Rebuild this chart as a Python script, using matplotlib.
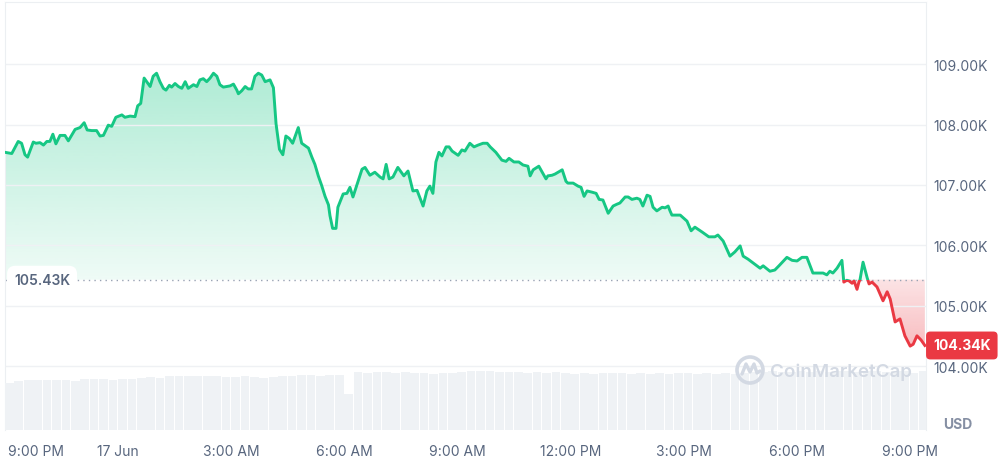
import numpy as np
import matplotlib.pyplot as plt
from matplotlib.colors import LinearSegmentedColormap, to_rgb
from matplotlib.path import Path
from matplotlib.patches import Rectangle, Circle
from matplotlib.lines import Line2D
from matplotlib.transforms import IdentityTransform, ScaledTranslation

plt.rcParams['font.family'] = ['Inter', 'DejaVu Sans']

# %% data: hours after 16 Jun 9:00 PM, price in K USD
hours = [0.00, 0.18, 0.35, 0.44, 0.53, 0.60, 0.75, 0.82, 0.93, 1.02,
         1.11, 1.19, 1.27, 1.35, 1.46, 1.59, 1.68, 1.86, 1.99, 2.10,
         2.18, 2.30, 2.43, 2.52, 2.61, 2.74, 2.83, 2.94, 3.10, 3.18,
         3.32, 3.45, 3.52, 3.60, 3.69, 3.85, 3.93, 4.02, 4.11, 4.20,
         4.27, 4.36, 4.42, 4.51, 4.60, 4.69, 4.78, 4.86, 5.00, 5.09,
         5.17, 5.26, 5.35, 5.44, 5.53, 5.62, 5.70, 5.79, 5.97, 6.06,
         6.15, 6.19, 6.28, 6.37, 6.45, 6.54, 6.63, 6.72, 6.81, 6.90,
         7.03, 7.12, 7.19, 7.28, 7.37, 7.45, 7.54, 7.63, 7.78, 7.87,
         7.96, 8.05, 8.14, 8.22, 8.31, 8.40, 8.49, 8.58, 8.62, 8.69,
         8.78, 8.83, 8.97, 9.07, 9.15, 9.23, 9.34, 9.47, 9.55, 9.68,
         9.81, 9.95, 10.03, 10.11, 10.19, 10.29, 10.42, 10.58, 10.69, 10.82,
         10.93, 11.09, 11.19, 11.27, 11.35, 11.43, 11.51, 11.59, 11.70, 11.78,
         11.86, 12.02, 12.12, 12.20, 12.33, 12.44, 12.55, 12.68, 12.79, 12.87,
         13.02, 13.18, 13.29, 13.37, 13.50, 13.63, 13.74, 13.87, 13.93, 14.01,
         14.16, 14.35, 14.40, 14.51, 14.59, 14.78, 14.88, 14.93, 15.07, 15.20,
         15.28, 15.36, 15.44, 15.57, 15.68, 15.76, 15.86, 16.00, 16.13, 16.23,
         16.31, 16.45, 16.53, 16.63, 16.76, 16.84, 16.92, 17.03, 17.11, 17.19,
         17.29, 17.43, 17.51, 17.59, 17.64, 17.69, 17.91, 18.09, 18.20, 18.30,
         18.49, 18.67, 18.83, 18.91, 19.05, 19.23, 19.36, 19.50, 19.58, 19.71,
         20.03, 20.11, 20.29, 20.42, 20.53, 20.74, 20.88, 21.01, 21.14, 21.27,
         21.43, 21.70, 21.80, 21.88, 21.96, 22.07, 22.20, 22.25, 22.33, 22.39,
         22.47, 22.52, 22.60, 22.65, 22.68, 22.76, 22.87, 22.92, 23.00, 23.13,
         23.29, 23.40, 23.48, 23.61, 23.74, 23.87, 24.01, 24.09, 24.19, 24.30,
         24.40]
price = [107.54, 107.52, 107.72, 107.69, 107.50, 107.46, 107.71, 107.69, 107.70, 107.66,
         107.72, 107.72, 107.84, 107.68, 107.82, 107.82, 107.73, 107.92, 107.95, 108.03,
         107.91, 107.90, 107.90, 107.81, 107.82, 107.99, 107.97, 108.12, 108.16, 108.12,
         108.14, 108.13, 108.31, 108.35, 108.77, 108.63, 108.80, 108.85, 108.71, 108.60,
         108.57, 108.65, 108.62, 108.68, 108.63, 108.60, 108.71, 108.60, 108.66, 108.63,
         108.74, 108.76, 108.71, 108.77, 108.85, 108.80, 108.66, 108.62, 108.64, 108.67,
         108.57, 108.51, 108.56, 108.63, 108.59, 108.59, 108.80, 108.85, 108.82, 108.71,
         108.74, 108.61, 108.01, 107.59, 107.50, 107.81, 107.77, 107.69, 107.95, 107.69,
         107.65, 107.61, 107.46, 107.34, 107.15, 106.99, 106.81, 106.67, 106.49, 106.28,
         106.28, 106.63, 106.85, 106.86, 106.96, 106.80, 107.01, 107.26, 107.29, 107.16,
         107.21, 107.13, 107.10, 107.34, 107.10, 107.13, 107.29, 107.15, 107.23, 106.90,
         106.91, 106.65, 106.90, 106.98, 106.86, 107.38, 107.54, 107.48, 107.63, 107.63,
         107.56, 107.49, 107.58, 107.56, 107.69, 107.63, 107.66, 107.69, 107.69, 107.63,
         107.54, 107.41, 107.39, 107.44, 107.38, 107.38, 107.33, 107.31, 107.15, 107.25,
         107.31, 107.10, 107.15, 107.16, 107.18, 107.25, 107.06, 107.03, 107.03, 106.98,
         106.96, 106.81, 106.90, 106.88, 106.86, 106.76, 106.75, 106.53, 106.65, 106.68,
         106.70, 106.80, 106.80, 106.76, 106.78, 106.76, 106.65, 106.83, 106.81, 106.63,
         106.57, 106.63, 106.62, 106.65, 106.57, 106.50, 106.50, 106.40, 106.24, 106.30,
         106.22, 106.14, 106.14, 106.17, 106.07, 105.82, 105.89, 105.99, 105.82, 105.77,
         105.62, 105.66, 105.57, 105.59, 105.66, 105.80, 105.75, 105.74, 105.80, 105.80,
         105.54, 105.54, 105.51, 105.57, 105.54, 105.62, 105.75, 105.39, 105.42, 105.41,
         105.37, 105.41, 105.27, 105.39, 105.43, 105.72, 105.46, 105.36, 105.39, 105.31,
         105.08, 105.23, 105.11, 104.73, 104.78, 104.50, 104.33, 104.36, 104.50, 104.43,
         104.34]

# 15 min volume bars (B USD)
vol_step = 0.25
volume = [37.6, 39.2, 40.0, 40.0, 40.0, 40.0, 40.0, 39.2, 40.8, 40.8,
          40.8, 40.0, 40.8, 40.8, 41.6, 42.4, 41.6, 43.2, 43.2, 43.2,
          43.2, 43.2, 43.2, 42.4, 42.4, 43.2, 42.4, 41.6, 42.4, 43.2,
          43.2, 44.0, 44.0, 43.2, 44.0, 44.0, 28.8, 46.4, 45.6, 46.4,
          46.4, 45.6, 46.4, 45.6, 45.6, 44.8, 45.6, 45.6, 46.4, 47.2,
          47.2, 47.2, 46.4, 46.4, 46.4, 45.6, 46.4, 45.6, 46.4, 45.6,
          44.8, 45.6, 44.8, 45.6, 45.6, 45.6, 44.8, 45.6, 44.8, 45.6,
          44.8, 45.6, 45.6, 44.8, 45.6, 44.8, 45.6, 44.8, 45.6, 46.4,
          46.4, 47.2, 46.4, 46.4, 47.2, 46.4, 47.2, 46.4, 47.2, 47.2,
          46.4, 47.2, 47.2, 46.4, 47.2, 47.2, 45.6, 47.2]

base_price = 105.43
last_price = 104.34
tick_hours = [0, 3, 6, 9, 12, 15, 18, 21, 24]
tick_labels = ['9:00 PM', '17 Jun', '3:00 AM', '6:00 AM', '9:00 AM',
               '12:00 PM', '3:00 PM', '6:00 PM', '9:00 PM']
price_ticks = [104, 105, 106, 107, 108, 109]

green = '#16c784'
red = '#ea3943'
txt_col = '#58667e'

# %%
x = np.array(hours)
y = np.array(price)
xmax = 24.43

fig = plt.figure(figsize=(10.02, 4.6), dpi=100)
ax = fig.add_axes([5/1002, 29/460, 921/1002, 428/460])

# volume underlay
ax2 = ax.twinx()
t_vol = np.arange(len(volume)) * vol_step
ax2.bar(t_vol, volume, width=vol_step*0.92, align='edge', color='#eff2f5', edgecolor='none')
ax2.set_ylim(0, 342.4)
ax2.set_yticks([])
for sp in ax2.spines.values():
    sp.set_visible(False)

# gradient fills, clipped to the area between line and baseline
def grad_fill(mask, lo, hi, c, a_lo, a_hi):
    fb = ax.fill_between(x, y, base_price, where=mask, interpolate=True,
                         facecolor='none', edgecolor='none')
    clip = Path.make_compound_path(*fb.get_paths())
    rgb = to_rgb(c)
    cmap = LinearSegmentedColormap.from_list('g', [rgb + (a_lo,), rgb + (a_hi,)])
    im = ax.imshow(np.linspace(0, 1, 256).reshape(-1, 1), extent=(0, xmax, lo, hi),
                   origin='lower', cmap=cmap, aspect='auto', zorder=1, interpolation='bilinear')
    im.set_clip_path(clip, transform=ax.transData)

grad_fill(y >= base_price, base_price, y.max(), green, 0.07, 0.34)
grad_fill(y <= base_price, y.min(), base_price, red, 0.33, 0.14)

# price line, green above the open, red below
lg, = ax.plot(x, y, color=green, lw=2.1, zorder=3, solid_joinstyle='round')
lg.set_clip_path(Rectangle((0, base_price), 30, 10, transform=ax.transData))
lr, = ax.plot(x, y, color=red, lw=2.1, zorder=3, solid_joinstyle='round')
lr.set_clip_path(Rectangle((0, base_price - 10), 30, 10, transform=ax.transData))

ax.axhline(base_price, color='#98a2b3', lw=1, ls=(0, (1, 3)), zorder=2.5)

ax.set_xlim(0, xmax)
ax.set_ylim(102.94, 110.03)

ax.set_yticks(price_ticks, [f'{v:.2f}K' for v in price_ticks])
ax.yaxis.tick_right()
ax.grid(axis='y', color='#eff1f4', lw=1)
ax.tick_params(axis='y', length=0, pad=5, labelsize=10, labelcolor=txt_col)
ax.set_xticks(tick_hours, tick_labels)
ax.tick_params(axis='x', length=0, pad=10, labelsize=10, labelcolor=txt_col)
first = ax.get_xticklabels()[0]
first.set_horizontalalignment('left')
first.set_transform(first.get_transform() + ScaledTranslation(3/100, 0, fig.dpi_scale_trans))

for side in ['top', 'left', 'right']:
    ax.spines[side].set_color('#eceff2')
ax.spines['bottom'].set_visible(False)

# open price label and current price badge
ax.text(9/921, base_price, '105.43K', transform=ax.get_yaxis_transform(),
        ha='left', va='center', fontsize=10, fontweight='semibold', color=txt_col, zorder=4,
        bbox=dict(boxstyle='round,pad=0.5,rounding_size=0.6', fc='white', ec='none'))
ax.annotate('104.34K', xy=(1, last_price), xycoords=ax.get_yaxis_transform(),
            xytext=(7, 0), textcoords='offset pixels', ha='left', va='center',
            fontsize=10, fontweight='bold', color='white', zorder=6, annotation_clip=False,
            bbox=dict(boxstyle='round,pad=0.5,rounding_size=0.3', fc=red, ec='none'))

fig.text(958/1002, 1 - 425/460, 'USD', ha='center', va='center', fontsize=10,
         fontweight='bold', color='#858fa3')

# watermark
wm = '#d3d9e3'
fig.patches.append(Circle((750, 460 - 371), 13, fill=False, ec=wm, lw=2.6,
                          transform=IdentityTransform(), zorder=10))
fig.lines.append(Line2D([742, 746, 750, 754, 757, 760], [85, 95, 87, 95, 86, 88],
                        color=wm, lw=2.4, transform=IdentityTransform(), zorder=10,
                        solid_joinstyle='round', solid_capstyle='round'))
fig.text(770/1002, 1 - 372/460, 'CoinMarketCap', ha='left', va='center', fontsize=13.5,
         fontweight='semibold', color=wm, zorder=10)

fig.savefig('out.png', dpi=100)
